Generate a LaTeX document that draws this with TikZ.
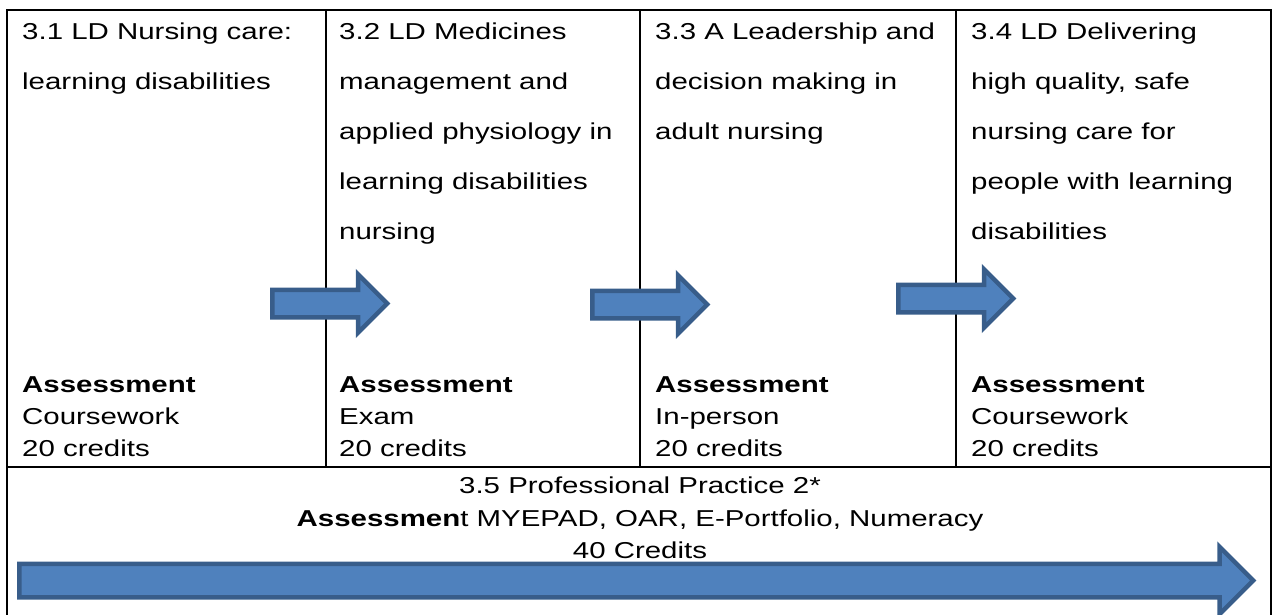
\documentclass[tikz,border=0pt]{standalone}
\usepackage{fontspec}
\setmainfont{Liberation Sans}[FakeStretch=1.28]
\usetikzlibrary{shapes.arrows,positioning}

\definecolor{arrowfill}{HTML}{4F81BD}
\definecolor{arrowline}{HTML}{385D8A}

\tikzset{
  tableline/.style={line width=2pt},
  title/.style={anchor=north west,inner sep=0pt,align=left,font=\fontsize{23}{50}\selectfont},
  assess/.style={anchor=north west,inner sep=0pt,align=left,font=\fontsize{23}{32}\selectfont},
  flow/.style={single arrow,draw=arrowline,fill=arrowfill,line width=4.5pt,
    inner xsep=0pt,inner ysep=11.5pt,minimum width=0pt,minimum height=115pt,
    single arrow head extend=15.5pt,single arrow head indent=0pt,anchor=tail},
}

\begin{document}
\begin{tikzpicture}[x=1pt,y=-1pt]
\useasboundingbox (0,0) rectangle (1275,615);

% table frame
\draw[tableline] (7,10) rectangle (1271,630);
\draw[tableline] (7,467) -- (1271,467);
\foreach \x in {326,640,956}
  \draw[tableline] (\x,10) -- (\x,467);

% module titles
\foreach \i/\x/\txt in {1/22/{3.1 LD Nursing care:\\learning disabilities},
  2/339/{3.2 LD Medicines\\management and\\applied physiology in\\learning disabilities\\nursing},
  3/655/{3.3 A Leadership and\\decision making in\\adult nursing},
  4/971/{3.4 LD Delivering\\high quality, safe\\nursing care for\\people with learning\\disabilities}}
  \node[title] (t\i) at (\x,22.5) {\txt};

% assessments
\foreach \i/\x/\kind in {1/22/Coursework,2/339/Exam,3/655/In-person,4/971/Coursework}
  \node[assess] (a\i) at (\x,376.5) {\textbf{Assessment}\\\kind\\20 credits};

% practice module
\node[anchor=north,inner sep=0pt,align=center,font=\fontsize{23}{32.5}\selectfont] (pp) at (640,477)
  {3.5 Professional Practice 2*\\\textbf{Assessmen}t MYEPAD, OAR, E-Portfolio, Numeracy\\40 Credits};

% arrows
\node[flow] (s1) at (270,303.5) {};
\node[flow] (s2) at (590,304.5) {};
\node[flow] (s3) at (896,298.5) {};
\node[flow,inner ysep=14.5pt,single arrow head extend=17pt,minimum height=1234pt] (big) at (17,580.5) {};

\end{tikzpicture}
\end{document}
